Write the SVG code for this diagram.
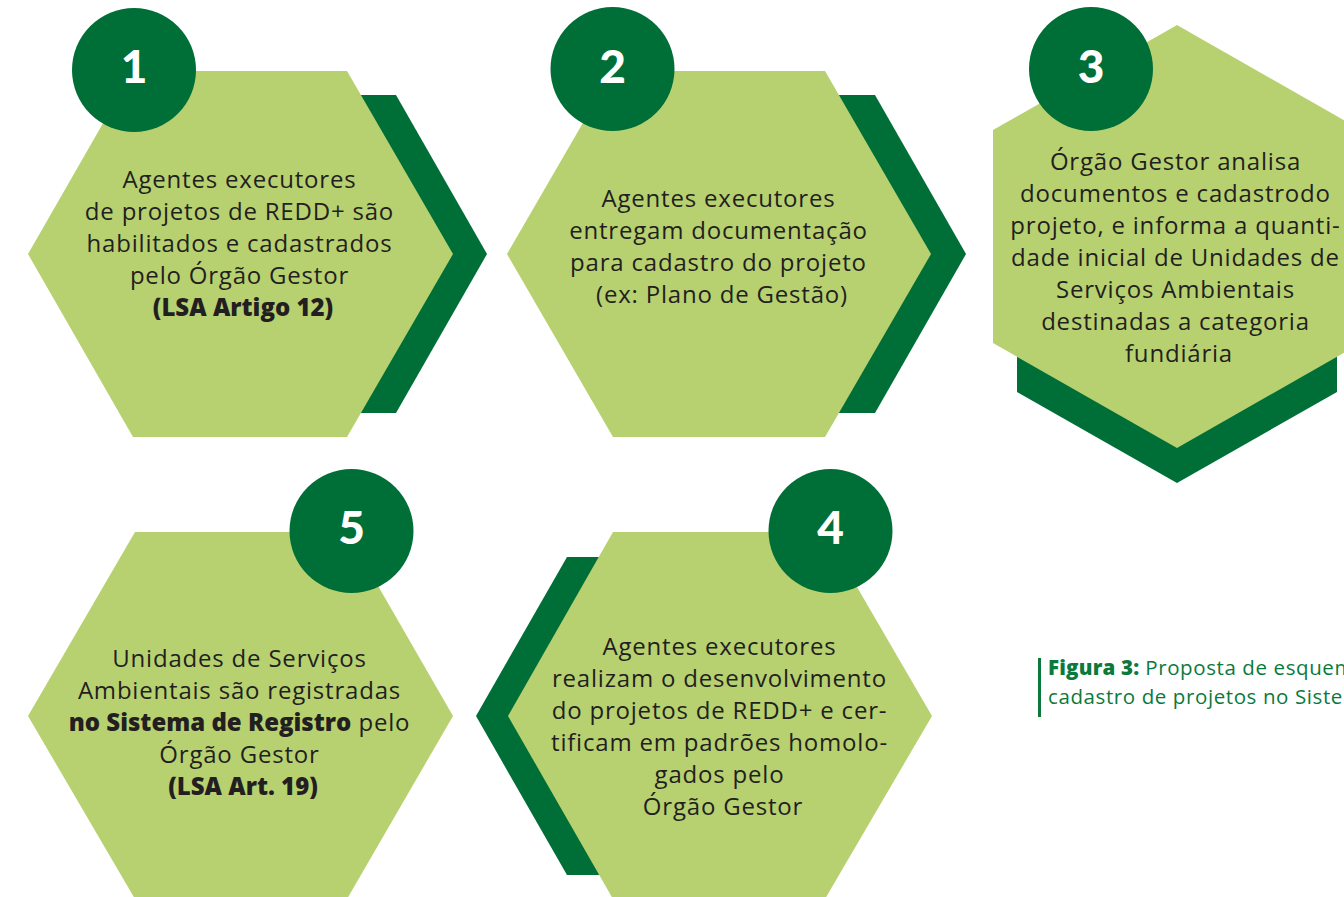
<svg xmlns="http://www.w3.org/2000/svg" width="1344" height="897" viewBox="0 0 1344 897">
  <style>
    .light { fill: #b8d170; }
    .dark { fill: #006f37; }
    .badge { fill: #006f37; }
    .num { font-family: "Lato", "Liberation Sans", sans-serif; font-weight: 900; font-size: 46px; fill: #ffffff; text-anchor: middle; }
    .body { font-family: "Open Sans", "Liberation Sans", sans-serif; font-size: 24px; letter-spacing: 0.8px; fill: #231f20; text-anchor: middle; }
    .b { font-weight: 800; letter-spacing: 0px; }
    .cap { font-family: "Open Sans", "Liberation Sans", sans-serif; font-size: 20.5px; letter-spacing: 0.6px; fill: #0a7a3c; }
  </style>
  <rect width="1344" height="897" fill="#ffffff"/>

  <!-- step 1 -->
  <g id="step1">
    <polygon class="dark" points="300,95 396,95 487,254 396,413 300,413"/>
    <polygon class="light" points="133,71 347,71 453,254 347,437 133,437 28,254"/>
    <circle class="badge" cx="134" cy="70" r="62"/>
    <text class="num" x="134" y="83">1</text>
    <text class="body">
      <tspan x="243" y="188">Agentes executores</tspan>
      <tspan x="243" y="220">de projetos de REDD+ são</tspan>
      <tspan x="243" y="252">habilitados e cadastrados</tspan>
      <tspan x="243" y="284">pelo Órgão Gestor</tspan>
      <tspan x="243" y="316" class="b">(LSA Artigo 12)</tspan>
    </text>
  </g>

  <!-- step 2 -->
  <g id="step2">
    <polygon class="dark" points="780,95 875,95 966,254 875,413 780,413"/>
    <polygon class="light" points="613,71 825,71 931,254 825,437 613,437 507,254"/>
    <circle class="badge" cx="612.5" cy="69" r="62"/>
    <text class="num" x="612.5" y="83">2</text>
    <text class="body">
      <tspan x="722" y="207">Agentes executores</tspan>
      <tspan x="722" y="239">entregam documentação</tspan>
      <tspan x="722" y="271">para cadastro do projeto</tspan>
      <tspan x="722" y="303">(ex: Plano de Gestão)</tspan>
    </text>
  </g>

  <!-- step 3 -->
  <g id="step3">
    <polygon class="dark" points="1017,300 1337,300 1337,392 1177,483 1017,392"/>
    <polygon class="light" points="1177,25 1361,130 1361,343 1177,448 993,343 993,130"/>
    <circle class="badge" cx="1091" cy="69" r="62"/>
    <text class="num" x="1091" y="83">3</text>
    <text class="body">
      <tspan x="1179" y="170">Órgão Gestor analisa</tspan>
      <tspan x="1179" y="202">documentos e cadastrodo</tspan>
      <tspan x="1179" y="234">projeto, e informa a quanti-</tspan>
      <tspan x="1179" y="266">dade inicial de Unidades de</tspan>
      <tspan x="1179" y="298">Serviços Ambientais</tspan>
      <tspan x="1179" y="330">destinadas a categoria</tspan>
      <tspan x="1179" y="362">fundiária</tspan>
    </text>
  </g>

  <!-- step 4 -->
  <g id="step4">
    <polygon class="dark" points="567,557 700,557 700,875 567,875 476,716"/>
    <polygon class="light" points="613,532 825,532 932,716 825,899 613,899 508,716"/>
    <circle class="badge" cx="830.5" cy="531" r="62"/>
    <text class="num" x="830.5" y="544">4</text>
    <text class="body">
      <tspan x="723" y="655">Agentes executores</tspan>
      <tspan x="723" y="687">realizam o desenvolvimento</tspan>
      <tspan x="723" y="719">do projetos de REDD+ e cer-</tspan>
      <tspan x="723" y="751">tificam em padrões homolo-</tspan>
      <tspan x="723" y="783">gados pelo</tspan>
      <tspan x="723" y="815">Órgão Gestor</tspan>
    </text>
  </g>

  <!-- step 5 -->
  <g id="step5">
    <polygon class="light" points="135,532 347,532 453,716 347,899 135,899 28,716"/>
    <circle class="badge" cx="351.5" cy="531" r="62"/>
    <text class="num" x="351.5" y="544">5</text>
    <text class="body">
      <tspan x="243" y="667">Unidades de Serviços</tspan>
      <tspan x="243" y="699">Ambientais são registradas</tspan>
      <tspan x="243" y="731"><tspan class="b">no Sistema de Registro</tspan> pelo</tspan>
      <tspan x="243" y="763">Órgão Gestor</tspan>
      <tspan x="243" y="795" class="b">(LSA Art. 19)</tspan>
    </text>
  </g>

  <!-- connectors: the sequence is carried by the chevron backs, no separate lines -->
  <g id="connectors"></g>

  <!-- caption -->
  <g id="caption">
    <rect x="1038" y="658" width="3" height="59" fill="#0a7a3c"/>
    <text class="cap" x="1048" y="675"><tspan font-weight="800" letter-spacing="0.2px">Figura 3:</tspan> Proposta de esquema</text>
    <text class="cap" x="1048" y="704">cadastro de projetos no Sistema</text>
  </g>
</svg>
